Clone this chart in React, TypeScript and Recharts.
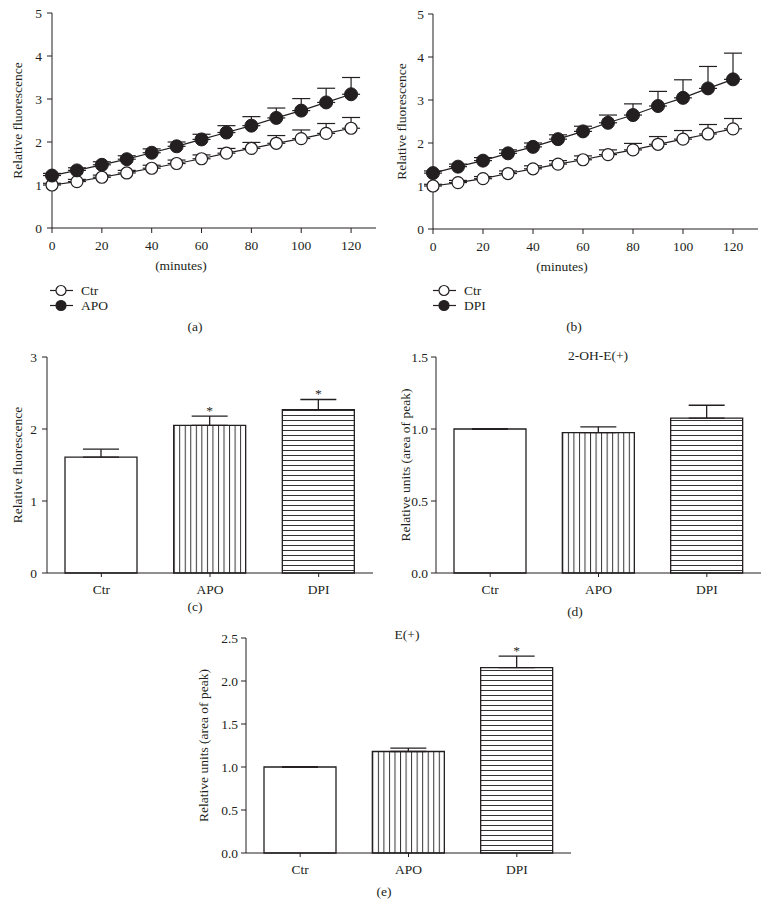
import {
  LineChart, Line, BarChart, Bar, Cell, XAxis, YAxis, ErrorBar, Legend, LabelList,
} from 'recharts';

const FONT = '"Liberation Serif", "Times New Roman", serif';
const INK = '#231f20';
const FS = 13.5;

// time course, panels (a) and (b)
const MINUTES = [0, 10, 20, 30, 40, 50, 60, 70, 80, 90, 100, 110, 120];
const TIME_TICKS = [0, 20, 40, 60, 80, 100, 120];
const FLUO_TICKS = [0, 1, 2, 3, 4, 5];

const CTR_A = [1.0, 1.08, 1.18, 1.28, 1.39, 1.5, 1.61, 1.74, 1.85, 1.97, 2.08, 2.2, 2.32];
const CTR_A_ERR = [0.04, 0.05, 0.05, 0.06, 0.07, 0.08, 0.09, 0.11, 0.14, 0.18, 0.2, 0.23, 0.25];
const APO_A = [1.22, 1.34, 1.47, 1.6, 1.75, 1.9, 2.06, 2.22, 2.38, 2.56, 2.73, 2.92, 3.11];
const APO_A_ERR = [0.05, 0.06, 0.07, 0.08, 0.09, 0.1, 0.12, 0.16, 0.21, 0.23, 0.28, 0.33, 0.39];

const CTR_B = [1.0, 1.08, 1.17, 1.29, 1.4, 1.51, 1.61, 1.73, 1.84, 1.97, 2.09, 2.21, 2.33];
const CTR_B_ERR = [0.04, 0.05, 0.05, 0.06, 0.07, 0.08, 0.09, 0.11, 0.15, 0.18, 0.2, 0.22, 0.24];
const DPI_B = [1.3, 1.45, 1.59, 1.76, 1.91, 2.09, 2.27, 2.47, 2.65, 2.86, 3.05, 3.27, 3.48];
const DPI_B_ERR = [0.05, 0.06, 0.07, 0.08, 0.09, 0.1, 0.12, 0.18, 0.26, 0.34, 0.42, 0.51, 0.61];

// end points, panels (c), (d), (e)
const GROUPS = ['Ctr', 'APO', 'DPI'];
const FLUO_C = [1.61, 2.05, 2.27];
const FLUO_C_ERR = [0.11, 0.13, 0.14];
const SIG_C = [false, true, true];

const OHE_D = [1.0, 0.975, 1.075];
const OHE_D_ERR = [0, 0.04, 0.09];
const SIG_D = [false, false, false];

const EPLUS_E = [1.0, 1.18, 2.155];
const EPLUS_E_ERR = [0, 0.04, 0.135];
const SIG_E = [false, false, true];

const tickStyle = { fontSize: FS, fill: INK, fontFamily: FONT };

function timeRows(ctr: number[], ctrErr: number[], trt: number[], trtErr: number[]) {
  return MINUTES.map((t, i) => ({
    t,
    ctr: ctr[i],
    ctrErr: [0, ctrErr[i]],
    trt: trt[i],
    trtErr: [0, trtErr[i]],
  }));
}

function yTitle(text: string, dx: number) {
  return (props: any) => {
    const vb = props.viewBox || props;
    const x = vb.x + dx;
    const y = vb.y + vb.height / 2;
    return (
      <text x={x} y={y} transform={`rotate(-90 ${x} ${y})`} textAnchor="middle"
        dominantBaseline="central" fontSize={FS} fontFamily={FONT} fill={INK}>
        {text}
      </text>
    );
  };
}

function xTitle(text: string, dx: number, dy: number) {
  return (props: any) => {
    const vb = props.viewBox || props;
    return (
      <text x={vb.x + dx} y={vb.y + dy} textAnchor="middle" dominantBaseline="central"
        fontSize={FS} fontFamily={FONT} fill={INK}>
        {text}
      </text>
    );
  };
}

function LegendBox({ names }: { names: string[] }) {
  return (
    <div style={{ fontFamily: FONT, fontSize: FS, color: INK, lineHeight: '15px', width: 120 }}>
      {names.map((n, i) => (
        <div key={n} style={{ display: 'flex', alignItems: 'center', height: 15 }}>
          <svg width={26} height={15} style={{ marginRight: 5, flexShrink: 0 }}>
            <line x1={0} y1={7.5} x2={23} y2={7.5} stroke={INK} strokeWidth={1.2} />
            <circle cx={11} cy={7.5} r={5} fill={i === 0 ? '#fff' : INK} stroke={INK} strokeWidth={1.2} />
          </svg>
          <span>{n}</span>
        </div>
      ))}
    </div>
  );
}

interface TimeProps {
  rows: any[];
  trtName: string;
  left: number;
  top: number;
  width: number;
  margin: any;
  yWidth: number;
  yTitleDx: number;
  yTickMargin: number;
  legendLeft: number;
}

function TimePanel(p: TimeProps) {
  return (
    <div style={{ position: 'absolute', left: p.left, top: p.top }}>
      <LineChart width={p.width} height={320} data={p.rows} margin={p.margin}>
        <XAxis dataKey="t" type="number" domain={[0, 130]} ticks={TIME_TICKS} interval={0}
          height={45} stroke={INK} tickSize={5} tickMargin={7} tick={tickStyle}
          label={{ content: xTitle('(minutes)', 129, 37) }} />
        <YAxis domain={[0, 5]} ticks={FLUO_TICKS} interval={0} width={p.yWidth} stroke={INK}
          tickSize={5} tickMargin={p.yTickMargin} tick={tickStyle}
          label={{ content: yTitle('Relative fluorescence', p.yTitleDx) }} />
        <Line type="linear" dataKey="ctr" stroke={INK} strokeWidth={1.2}
          dot={{ r: 6, fill: '#fff', stroke: INK, strokeWidth: 1.2 }} activeDot={false}
          isAnimationActive={false}>
          <ErrorBar dataKey="ctrErr" width={9} stroke={INK} strokeWidth={1.2} direction="y" />
        </Line>
        <Line type="linear" dataKey="trt" stroke={INK} strokeWidth={1.2}
          dot={{ r: 6.5, fill: INK, stroke: INK, strokeWidth: 1 }} activeDot={false}
          isAnimationActive={false}>
          <ErrorBar dataKey="trtErr" width={9} stroke={INK} strokeWidth={1.2} direction="y" />
        </Line>
        <Legend layout="vertical" align="center" verticalAlign="middle"
          wrapperStyle={{ left: p.legendLeft, top: 283, width: 120 }}
          content={() => <LegendBox names={['Ctr', p.trtName]} />} />
      </LineChart>
    </div>
  );
}

function starLabel(values: number[], errs: number[], sigs: boolean[]) {
  return (props: any) => {
    const i = props.index;
    if (!sigs[i]) return null;
    const vb = props.viewBox || props;
    const perUnit = vb.height / values[i];
    const capY = vb.y - errs[i] * perUnit;
    return (
      <text x={vb.x + vb.width / 2} y={capY - 1.5} textAnchor="middle" fontSize={FS}
        fontFamily={FONT} fill={INK}>
        *
      </text>
    );
  };
}

interface BarProps {
  id: string;
  values: number[];
  errs: number[];
  sigs: boolean[];
  max: number;
  ticks: number[];
  decimals: number;
  yTitleText: string;
  left: number;
  top: number;
  width: number;
  margin: any;
  yWidth: number;
  yTitleDx: number;
  yTickMargin: number;
}

function BarPanel(p: BarProps) {
  const rows = GROUPS.map((g, i) => ({ group: g, value: p.values[i], err: [0, p.errs[i]] }));
  const fills = ['#fff', `url(#v-${p.id})`, `url(#h-${p.id})`];
  return (
    <div style={{ position: 'absolute', left: p.left, top: p.top }}>
      <BarChart width={p.width} height={260} data={rows} margin={p.margin} barSize={72}>
        <defs>
          <pattern id={`v-${p.id}`} patternUnits="objectBoundingBox" width={1 / 13} height={1}>
            <rect x={0} y={0} width={20} height={400} fill="#fff" />
            <line x1={0.5} y1={0} x2={0.5} y2={400} stroke="#333" strokeWidth={1} />
          </pattern>
          <pattern id={`h-${p.id}`} patternUnits="userSpaceOnUse" width={10} height={5}>
            <rect x={0} y={0} width={10} height={5} fill="#fff" />
            <line x1={0} y1={0.5} x2={10} y2={0.5} stroke="#333" strokeWidth={1} />
          </pattern>
        </defs>
        <XAxis dataKey="group" height={25} stroke={INK} tickSize={4} tickMargin={7}
          tick={tickStyle} interval={0} />
        <YAxis domain={[0, p.max]} ticks={p.ticks} interval={0} width={p.yWidth} stroke={INK}
          tickSize={5} tickMargin={p.yTickMargin} tick={tickStyle}
          tickFormatter={(v: number) => v.toFixed(p.decimals)}
          label={{ content: yTitle(p.yTitleText, p.yTitleDx) }} />
        <Bar dataKey="value" stroke={INK} strokeWidth={1.3} isAnimationActive={false}>
          {rows.map((r, i) => <Cell key={r.group} fill={fills[i]} />)}
          <ErrorBar dataKey="err" width={18} stroke={INK} strokeWidth={1.3} direction="y" />
          <LabelList dataKey="value" content={starLabel(p.values, p.errs, p.sigs)} />
        </Bar>
      </BarChart>
    </div>
  );
}

const overlayText = (x: number, y: number, s: string) => (
  <text key={s} x={x} y={y} textAnchor="middle" dominantBaseline="central" fontSize={FS}
    fontFamily={FONT} fill={INK}>
    {s}
  </text>
);

export default function App() {
  return (
    <div style={{ position: 'absolute', left: 0, top: 0, width: 769, height: 904, background: '#fff' }}>
      <TimePanel rows={timeRows(CTR_A, CTR_A_ERR, APO_A, APO_A_ERR)} trtName="APO"
        left={0} top={0} width={390} margin={{ top: 13, right: 14, bottom: 47, left: 0 }}
        yWidth={52} yTitleDx={17} yTickMargin={5} legendLeft={50} />
      <TimePanel rows={timeRows(CTR_B, CTR_B_ERR, DPI_B, DPI_B_ERR)} trtName="DPI"
        left={390} top={0} width={379} margin={{ top: 14, right: 11, bottom: 46, left: 0 }}
        yWidth={43} yTitleDx={11} yTickMargin={4} legendLeft={43} />
      <BarPanel id="c" values={FLUO_C} errs={FLUO_C_ERR} sigs={SIG_C} max={3}
        ticks={[0, 1, 2, 3]} decimals={0} yTitleText="Relative fluorescence"
        left={0} top={340} width={390} margin={{ top: 17, right: 17, bottom: 2, left: 0 }}
        yWidth={47} yTitleDx={17} yTickMargin={5} />
      <BarPanel id="d" values={OHE_D} errs={OHE_D_ERR} sigs={SIG_D} max={1.5}
        ticks={[0, 0.5, 1, 1.5]} decimals={1} yTitleText="Relative units (area of peak)"
        left={390} top={340} width={379} margin={{ top: 17, right: 8, bottom: 2, left: 0 }}
        yWidth={46} yTitleDx={15} yTickMargin={3} />
      <BarPanel id="e" values={EPLUS_E} errs={EPLUS_E_ERR} sigs={SIG_E} max={2.5}
        ticks={[0, 0.5, 1, 1.5, 2, 2.5]} decimals={1} yTitleText="Relative units (area of peak)"
        left={180} top={620} width={400} margin={{ top: 18, right: 9, bottom: 2, left: 0 }}
        yWidth={66} yTitleDx={23} yTickMargin={3} />
      <svg width={769} height={904} style={{ position: 'absolute', left: 0, top: 0, pointerEvents: 'none' }}>
        {overlayText(195, 326, '(a)')}
        {overlayText(574, 326, '(b)')}
        {overlayText(195, 606, '(c)')}
        {overlayText(575, 611, '(d)')}
        {overlayText(384, 891, '(e)')}
        {overlayText(598, 355, '2-OH-E(+)')}
        {overlayText(407, 634, 'E(+)')}
      </svg>
    </div>
  );
}
